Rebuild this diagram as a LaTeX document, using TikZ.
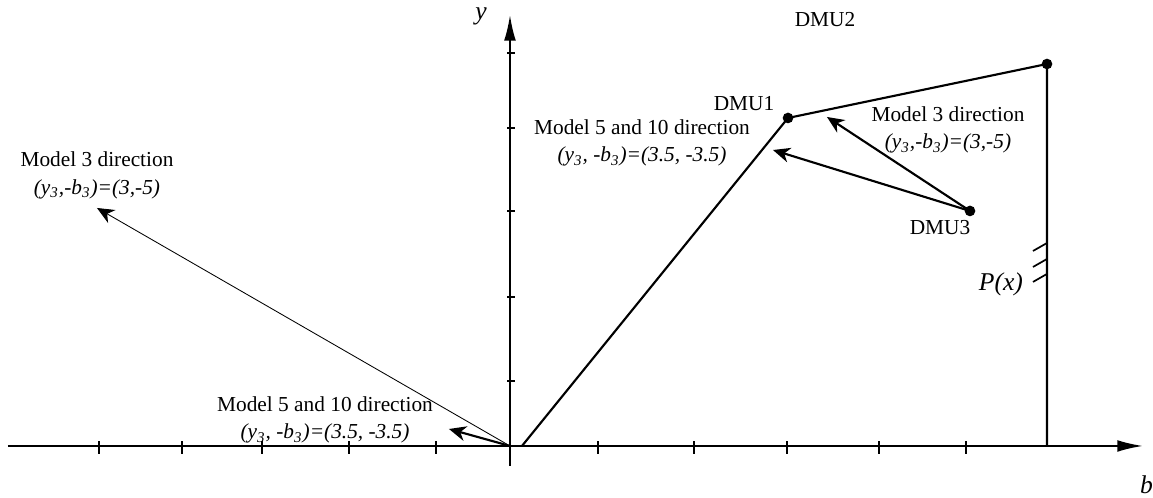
\documentclass[tikz,border=0pt]{standalone}
\usepackage{fontspec}
\setmainfont{Liberation Serif}
\usetikzlibrary{arrows.meta}

\tikzset{
  axe/.style={line width=0.9pt, -{Latex[length=12pt,width=5.5pt]}},
  graduation/.style={line width=0.8pt},
  frontiere/.style={line width=1pt},
  direction/.style={line width=1pt, -{Stealth[length=8pt,width=7pt,inset=2.5pt]}},
  fine/.style={line width=0.4pt, -{Stealth[length=8pt,width=7pt,inset=2.5pt]}},
  etiquette/.style={align=center, inner sep=0pt},
}

\begin{document}
\begin{tikzpicture}[x=1.4cm, y=1.4cm]
  \useasboundingbox (-6.0,-0.612) rectangle (7.565,5.247);

  % Axes
  \coordinate (O) at (0,0);
  \coordinate (xg) at (-5.906,0);
  \coordinate (xd) at (7.447,0);
  \coordinate (yb) at (0,-0.235);
  \coordinate (yh) at (0,5.071);
  \draw[axe] (xg) -- (xd);
  \draw[axe] (yb) -- (yh);
  \node (lb) at (7.49,-0.46) {\large\itshape b};
  \node (ly) at (-0.34,5.05) {\large\itshape y};
  \foreach \t in {-4.835,-3.859,-2.918,-1.894,-0.871,1.035,2.165,3.259,4.341,5.365}
    \draw[graduation] (\t,-0.09) -- (\t,0.06);
  \foreach \t in {0.765,1.753,2.765,3.741,4.624}
    \draw[graduation] (-0.035,\t) -- (0.06,\t);

  % Frontiere et DMU
  \coordinate (F0) at (0.141,0);
  \coordinate (D1) at (3.271,3.859);
  \coordinate (D2) at (6.318,4.494);
  \coordinate (D3) at (5.412,2.765);
  \coordinate (F1) at (6.318,0);
  \draw[frontiere] (F0) -- (D1) -- (D2) -- (F1);
  \foreach \p in {D1,D2,D3}
    \fill (\p) circle (2.5pt);
  \node (n1) at (2.753,4.024) {DMU1};
  \node (n2) at (3.706,5.012) {DMU2};
  \node (n3) at (5.059,2.565) {DMU3};

  % Hachures P(x)
  \foreach \h in {2.388,2.2,2.024}
    \draw[graduation] (6.318,\h) -- (6.153,\h-0.094);
  \node (px) at (5.776,1.906) {\large\itshape P(x)};

  % Directions depuis DMU3
  \coordinate (c3) at (3.729,3.871);
  \coordinate (c5) at (3.094,3.482);
  \draw[direction] (D3) -- (c3);
  \draw[direction] (D3) -- (c5);
  \node[etiquette] (m3d) at (5.153,3.718)
    {Model 3 direction\\[1pt] \itshape (y\textsubscript{3},-b\textsubscript{3})=(3,-5)};
  \node[etiquette] (m5d) at (1.553,3.565)
    {Model 5 and 10 direction\\[1pt] \itshape (y\textsubscript{3}, -b\textsubscript{3})=(3.5, -3.5)};

  % Directions depuis l'origine
  \coordinate (o3) at (-4.859,2.8);
  \coordinate (o5) at (-0.718,0.2);
  \draw[fine] (O) -- (o3);
  \draw[direction] (O) -- (o5);
  \node[etiquette] (m3g) at (-4.859,3.18)
    {Model 3 direction\\[1pt] \itshape (y\textsubscript{3},-b\textsubscript{3})=(3,-5)};
  \node[etiquette] (m5g) at (-2.176,0.306)
    {Model 5 and 10 direction\\[1pt] \itshape (y\textsubscript{3}, -b\textsubscript{3})=(3.5, -3.5)};
\end{tikzpicture}
\end{document}
